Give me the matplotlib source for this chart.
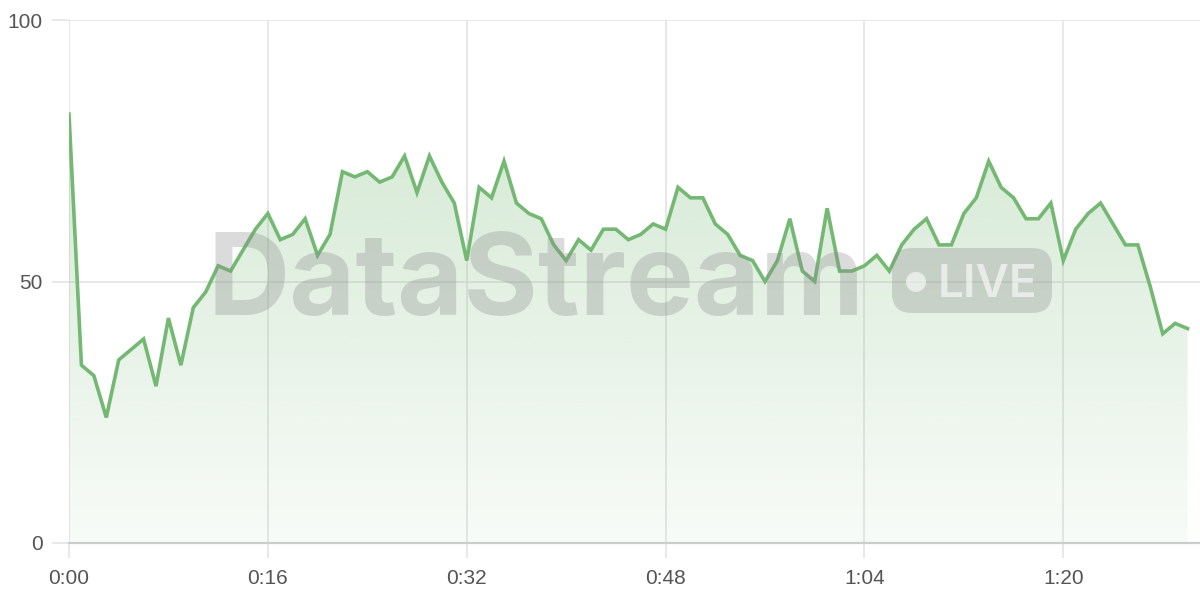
import numpy as np
import matplotlib.pyplot as plt
from matplotlib.patches import FancyBboxPatch, Circle
from matplotlib.transforms import IdentityTransform

# one reading per second, 0:00 .. 1:30
seconds = list(range(91))
values = [82, 34, 32, 24, 35, 37, 39, 30, 43, 34,
          45, 48, 53, 52, 56, 60, 63, 58, 59, 62,
          55, 59, 71, 70, 71, 69, 70, 74, 67, 74,
          69, 65, 54, 68, 66, 73, 65, 63, 62, 57,
          54, 58, 56, 60, 60, 58, 59, 61, 60, 68,
          66, 66, 61, 59, 55, 54, 50, 54, 62, 52,
          50, 64, 52, 52, 53, 55, 52, 57, 60, 62,
          57, 57, 63, 66, 73, 68, 66, 62, 62, 65,
          54, 60, 63, 65, 61, 57, 57, 49, 40, 42, 41]
x_ticks = [0, 16, 32, 48, 64, 80]
x_labels = ['0:00', '0:16', '0:32', '0:48', '1:04', '1:20']
y_ticks = [0, 50, 100]

line_color = '#74b874'
grid_color = '#e6e6e6'

plt.rcParams['font.family'] = ['Liberation Sans', 'DejaVu Sans']

fig = plt.figure(figsize=(12, 6), dpi=100)
ax = fig.add_axes([69 / 1200, 57 / 600, 1131 / 1200, 523 / 600])
ax.set_xlim(0, 91)
ax.set_ylim(0, 100)

# gradient fill under the line
fill = ax.fill_between(seconds, values, 0, color='none', lw=0)
grad = np.linspace(0.05, 0.36, 256).reshape(-1, 1)
rgba = np.zeros((256, 1, 4))
rgba[..., 0] = 0x74 / 255
rgba[..., 1] = 0xb8 / 255
rgba[..., 2] = 0x74 / 255
rgba[..., 3] = grad
img = ax.imshow(rgba, extent=[0, 90, 0, 100], origin='lower', aspect='auto', zorder=1)
path = fill.get_paths()[0]
img.set_clip_path(path, transform=ax.transData)

ax.plot(seconds, values, color=line_color, lw=2.6, zorder=4, solid_joinstyle='miter')

ax.set_xticks(x_ticks)
ax.set_xticklabels(x_labels)
ax.set_yticks(y_ticks)
ax.grid(True, color=grid_color, lw=1.3, zorder=0)
ax.set_axisbelow(True)
for s in ['top', 'right', 'left']:
    ax.spines[s].set_visible(False)
ax.spines['bottom'].set_color('#cccccc')
ax.spines['bottom'].set_linewidth(1.6)
ax.tick_params(axis='y', length=12, width=1.3, color=grid_color, pad=7,
               labelsize=15, labelcolor='#555555')
ax.tick_params(axis='x', length=11, width=1.3, color=grid_color, pad=8,
               labelsize=15, labelcolor='#555555')

# watermark
fig.text(536 / 1200, 1 - 315 / 600, 'DataStream', family=['Inter', 'DejaVu Sans'],
         fontweight='bold', fontsize=82, color='#888888', alpha=0.3,
         ha='center', va='baseline', zorder=3)
pill = FancyBboxPatch((892, 287), 160, 65, boxstyle='round,pad=0,rounding_size=20',
                      transform=IdentityTransform(), facecolor='#888888', alpha=0.3,
                      edgecolor='none', zorder=3)
fig.patches.append(pill)
dot = Circle((916, 318), 10, transform=IdentityTransform(), facecolor='white',
             alpha=0.6, edgecolor='none', zorder=3)
fig.patches.append(dot)
fig.text(987 / 1200, 1 - 297 / 600, 'LIVE', family=['Inter', 'DejaVu Sans'],
         fontweight='semibold', fontsize=33, color='white', alpha=0.6,
         ha='center', va='baseline', zorder=3)

fig.savefig('out.png', dpi=100)
